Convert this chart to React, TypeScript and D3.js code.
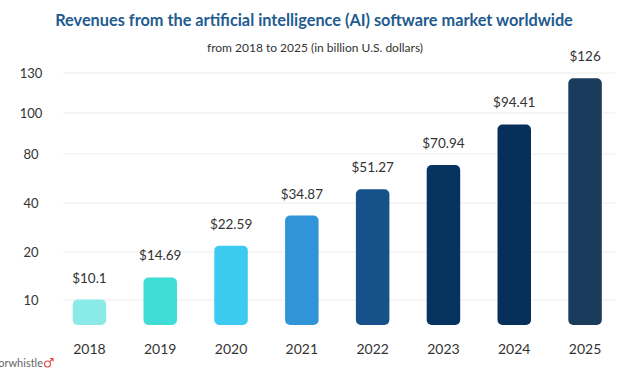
import React from "react";
import * as d3 from "d3";

const years = ["2018", "2019", "2020", "2021", "2022", "2023", "2024", "2025"];
const revenues = [10.1, 14.69, 22.59, 34.87, 51.27, 70.94, 94.41, 126];
const valueLabels = ["$10.1", "$14.69", "$22.59", "$34.87", "$51.27", "$70.94", "$94.41", "$126"];
const barColors = ["#8aeae8", "#40dcd6", "#3ccaf0", "#2f95d8", "#175189", "#06335f", "#062f59", "#1b3b5d"];
const tickValues = [10, 20, 40, 80, 100, 130];

const W = 630;
const H = 380;
const FONT = "Lato, 'Open Sans', sans-serif";

export default function App() {
  const x = d3
    .scaleBand<string>()
    .domain(years)
    .range([55, 619.5])
    .paddingInner(0.527)
    .paddingOuter(0.25);

  // Axis labels are evenly spaced in the original; piecewise scale through tick values
  const y = d3
    .scaleLinear()
    .domain([0, 10, 20, 40, 80, 100, 130])
    .range([325, 300, 252, 203, 154, 113, 73]);

  return (
    <svg
      width={W}
      height={H}
      viewBox={`0 0 ${W} ${H}`}
      style={{ position: "absolute", left: 0, top: 0, background: "#fff" }}
    >
      <text
        x={314}
        y={26}
        textAnchor="middle"
        fontFamily={FONT}
        fontWeight={700}
        fontSize={16.3}
        fill="#1f5b8f"
      >
        Revenues from the artificial intelligence (AI) software market worldwide
      </text>
      <text x={315} y={52} textAnchor="middle" fontFamily={FONT} fontSize={12} fill="#333">
        from 2018 to 2025 (in billion U.S. dollars)
      </text>

      {/* y-axis title, mostly off the left edge as in the original */}
      <text
        transform={`translate(-2,${(73 + 325) / 2}) rotate(-90)`}
        textAnchor="middle"
        fontFamily={FONT}
        fontSize={11}
        fill="#bbb"
      >
        Revenue in billion U.S. dollars
      </text>

      {tickValues.map((t) => (
        <g key={t}>
          <line x1={63} x2={615} y1={y(t)} y2={y(t)} stroke="#ececec" strokeWidth={1} />
          <text
            x={31}
            y={y(t)}
            dy="0.35em"
            textAnchor="middle"
            fontFamily={FONT}
            fontSize={13}
            fill="#333"
          >
            {t}
          </text>
        </g>
      ))}

      {years.map((yr, i) => {
        const bx = x(yr) as number;
        const top = y(revenues[i]);
        return (
          <g key={yr}>
            <rect
              x={bx}
              y={top}
              width={x.bandwidth()}
              height={y(0) - top}
              rx={5}
              ry={5}
              fill={barColors[i]}
            />
            <text
              x={bx + x.bandwidth() / 2}
              y={top - 17}
              textAnchor="middle"
              fontFamily={FONT}
              fontSize={13.5}
              fill="#333"
            >
              {valueLabels[i]}
            </text>
            <text
              x={bx + x.bandwidth() / 2}
              y={354}
              textAnchor="middle"
              fontFamily={FONT}
              fontSize={14}
              fill="#333"
            >
              {yr}
            </text>
          </g>
        );
      })}

      {/* logo */}
      <text x={43} y={367} textAnchor="end" fontFamily={FONT} fontSize={11} fill="#666">
        colorwhistle
      </text>
      <g transform="translate(44,358)" stroke="#e8474c" strokeWidth={1.1} fill="none">
        <circle cx={3.5} cy={6} r={3} />
        <path d="M5.6 3.9 L9 0.5 M6 0.5 L9 0.5 L9 3.5" />
      </g>
    </svg>
  );
}
